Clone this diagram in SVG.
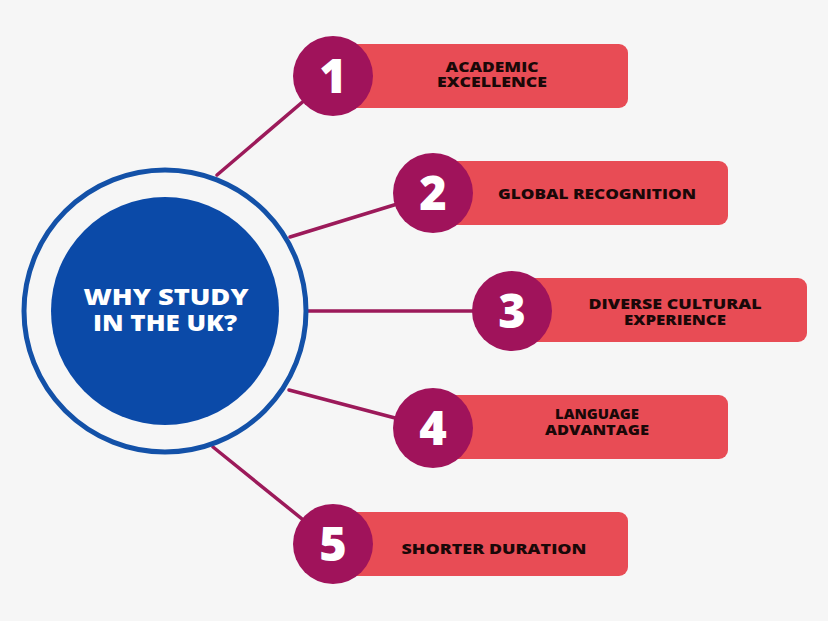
<svg xmlns="http://www.w3.org/2000/svg" width="828" height="621" viewBox="0 0 828 621">
<style>
.bar{fill:#e84c55}
.num{fill:#a0135b}
.numt{fill:#ffffff;font-family:"Open Sans","Liberation Sans",sans-serif;font-weight:800;font-size:47px;text-anchor:middle}
.lab{fill:#1a0808;font-family:"Open Sans","Liberation Sans",sans-serif;font-weight:800;font-size:14px;text-anchor:middle}
.ctr{fill:#ffffff;font-family:"Open Sans","Liberation Sans",sans-serif;font-weight:800;font-size:23px;text-anchor:middle}
.con{stroke:#9c1a5a;stroke-width:3.5;fill:none;stroke-linecap:round}
</style>
<rect width="828" height="621" fill="#f6f6f6"/>
<g id="connectors">
<line class="con" x1="217" y1="175" x2="333" y2="76"/>
<line class="con" x1="290" y1="237" x2="433" y2="193"/>
<line class="con" x1="308" y1="311" x2="512" y2="311"/>
<line class="con" x1="289" y1="390" x2="433" y2="428"/>
<line class="con" x1="213" y1="447" x2="333" y2="544"/>
</g>
<g id="center">
<circle cx="165" cy="311" r="141" fill="none" stroke="#1351a8" stroke-width="5"/>
<circle cx="165" cy="311" r="114" fill="#0b4aa8"/>
<text class="ctr" x="166" y="305" textLength="165" lengthAdjust="spacingAndGlyphs">WHY STUDY</text>
<text class="ctr" x="165" y="331" textLength="144" lengthAdjust="spacingAndGlyphs">IN THE UK?</text>
</g>
<g id="item1">
<rect class="bar" x="333" y="44" width="295" height="64" rx="9"/>
<circle class="num" cx="333" cy="76" r="40"/>
<text class="numt" x="333" y="93">1</text>
<text class="lab" x="492" y="72" textLength="93" lengthAdjust="spacingAndGlyphs">ACADEMIC</text>
<text class="lab" x="492" y="87" textLength="110" lengthAdjust="spacingAndGlyphs">EXCELLENCE</text>
</g>
<g id="item2">
<rect class="bar" x="433" y="161" width="295" height="64" rx="9"/>
<circle class="num" cx="433" cy="193" r="40"/>
<text class="numt" x="433" y="210">2</text>
<text class="lab" x="597" y="199" textLength="198" lengthAdjust="spacingAndGlyphs">GLOBAL RECOGNITION</text>
</g>
<g id="item3">
<rect class="bar" x="512" y="278" width="295" height="64" rx="9"/>
<circle class="num" cx="512" cy="311" r="40"/>
<text class="numt" x="512" y="328">3</text>
<text class="lab" x="675" y="309" textLength="173" lengthAdjust="spacingAndGlyphs">DIVERSE CULTURAL</text>
<text class="lab" x="675" y="325" textLength="102" lengthAdjust="spacingAndGlyphs">EXPERIENCE</text>
</g>
<g id="item4">
<rect class="bar" x="433" y="395" width="295" height="64" rx="9"/>
<circle class="num" cx="433" cy="428" r="40"/>
<text class="numt" x="433" y="445">4</text>
<text class="lab" x="597" y="419" textLength="84" lengthAdjust="spacingAndGlyphs">LANGUAGE</text>
<text class="lab" x="597" y="435" textLength="104" lengthAdjust="spacingAndGlyphs">ADVANTAGE</text>
</g>
<g id="item5">
<rect class="bar" x="333" y="512" width="295" height="64" rx="9"/>
<circle class="num" cx="333" cy="544" r="40"/>
<text class="numt" x="333" y="561">5</text>
<text class="lab" x="494" y="554" textLength="185" lengthAdjust="spacingAndGlyphs">SHORTER DURATION</text>
</g>
</svg>
